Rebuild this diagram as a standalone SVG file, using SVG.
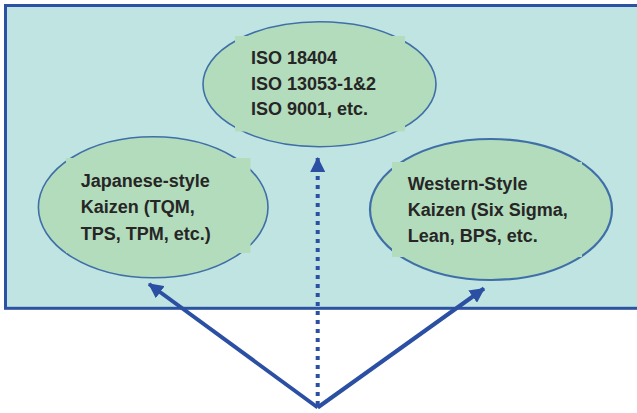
<svg xmlns="http://www.w3.org/2000/svg" width="637" height="413" viewBox="0 0 637 413">
  <defs>
    <style>
      .frame { fill: #c0e4e1; stroke: #2c52a2; stroke-width: 3; }
      .bubble { fill: #b3dcbc; stroke: #3f6fa8; stroke-width: 1.6; }
      .patch { fill: #b3dcbc; stroke: none; }
      .label { font-family: "Liberation Sans", Arial, sans-serif; font-weight: bold; font-size: 18px; fill: #262626; }
      .conn { stroke: #2b4fa3; stroke-width: 4; fill: none; }
      .dotted { stroke-dasharray: 4 5; }
    </style>
    <marker id="arrow" markerUnits="userSpaceOnUse" markerWidth="15" markerHeight="15" refX="13" refY="7" orient="auto" viewBox="0 0 14 14">
      <path d="M0,0 L14,7 L0,14 z" fill="#2b4fa3"/>
    </marker>
  </defs>

  <rect class="frame" x="5.5" y="5.5" width="640" height="302.8"/>

  <g id="node-iso">
    <ellipse class="bubble" cx="319.5" cy="84.2" rx="116.5" ry="62.5"/>
    <rect class="patch" x="235" y="36" width="170" height="95.5"/>
    <text class="label" x="251" y="64.3">ISO 18404</text>
    <text class="label" x="251" y="89.5">ISO 13053-1&amp;2</text>
    <text class="label" x="251" y="115">ISO 9001, etc.</text>
  </g>

  <g id="node-japanese">
    <ellipse class="bubble" cx="153.2" cy="207.3" rx="114.8" ry="70.5"/>
    <rect class="patch" x="66" y="158" width="184.5" height="95"/>
    <text class="label" x="80.7" y="186.7">Japanese-style</text>
    <text class="label" x="80.7" y="213.3">Kaizen (TQM,</text>
    <text class="label" x="80.7" y="239.5">TPS, TPM, etc.)</text>
  </g>

  <g id="node-western">
    <ellipse class="bubble" cx="491" cy="209.5" rx="121" ry="70.5" style="stroke-width:2.2"/>
    <rect class="patch" x="392" y="162" width="190" height="95"/>
    <text class="label" x="407.7" y="190">Western-Style</text>
    <text class="label" x="407.7" y="216">Kaizen (Six Sigma,</text>
    <text class="label" x="407.7" y="241.7">Lean, BPS, etc.</text>
  </g>

  <g id="connectors">
    <line class="conn" x1="317.7" y1="407.5" x2="149" y2="284" marker-end="url(#arrow)"/>
    <line class="conn" x1="317.7" y1="407.5" x2="484" y2="288.5" marker-end="url(#arrow)"/>
    <line class="conn dotted" x1="317.7" y1="405" x2="317.7" y2="158" marker-end="url(#arrow)"/>
  </g>
</svg>
